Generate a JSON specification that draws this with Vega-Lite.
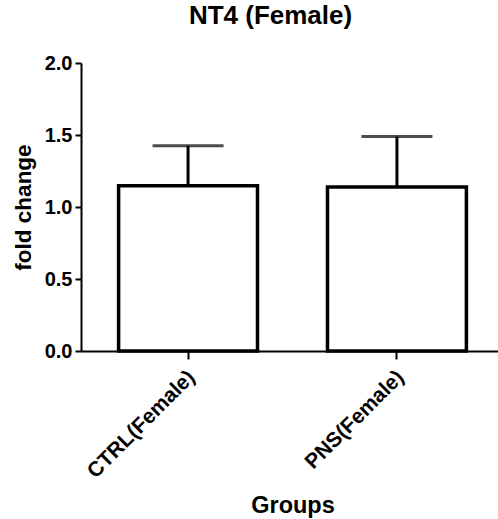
{
  "$schema": "https://vega.github.io/schema/vega-lite/v6.json",
  "width": 423,
  "height": 288,
  "autosize": "none",
  "padding": {"left": 81, "top": 63, "right": 0, "bottom": 168},
  "background": "white",
  "title": {"text": "NT4 (Female)", "font": "Liberation Sans", "fontSize": 26, "fontWeight": "bold", "color": "black", "offset": 24, "dx": -22},
  "data": {"values": [
    {"group": "CTRL(Female)", "mean": 1.148, "upper": 1.425},
    {"group": "PNS(Female)", "mean": 1.139, "upper": 1.489}
  ]},
  "encoding": {
    "x": {
      "field": "group", "type": "nominal", "sort": null,
      "scale": {"paddingInner": 0.335, "paddingOuter": 0.18},
      "axis": {
        "title": "Groups", "labelAngle": -45,
        "labelFont": "Liberation Sans", "labelFontSize": 21, "labelFontWeight": "bold", "labelColor": "black",
        "titleFont": "Liberation Sans", "titleFontSize": 23.5, "titleFontWeight": "bold", "titleColor": "black", "titlePadding": 12,
        "tickSize": 8, "tickWidth": 2, "tickColor": "black", "domainColor": "black", "domainWidth": 2, "labelPadding": 7, "labelOffset": -4
      }
    }
  },
  "layer": [
    {
      "mark": {"type": "bar", "fill": "white", "stroke": "black", "strokeWidth": 3.5},
      "encoding": {
        "y": {
          "field": "mean", "type": "quantitative",
          "scale": {"domain": [0, 2], "nice": false},
          "axis": {
            "title": "fold change", "values": [0, 0.5, 1, 1.5, 2], "format": ".1f",
            "labelFont": "Liberation Sans", "labelFontSize": 20, "labelFontWeight": "bold", "labelColor": "black",
            "titleFont": "Liberation Sans", "titleFontSize": 22.5, "titleFontWeight": "bold", "titleColor": "black", "titlePadding": 9,
            "tickSize": 6, "tickWidth": 2, "tickColor": "black", "domainColor": "black", "domainWidth": 2, "labelPadding": 3
          }
        }
      }
    },
    {
      "mark": {"type": "rule", "color": "black", "strokeWidth": 3},
      "encoding": {
        "y": {"field": "mean", "type": "quantitative"},
        "y2": {"field": "upper"}
      }
    },
    {
      "mark": {"type": "tick", "color": "black", "thickness": 3, "size": 71},
      "encoding": {
        "y": {"field": "upper", "type": "quantitative"}
      }
    }
  ],
  "config": {"view": {"stroke": null}, "axis": {"grid": false}}
}
